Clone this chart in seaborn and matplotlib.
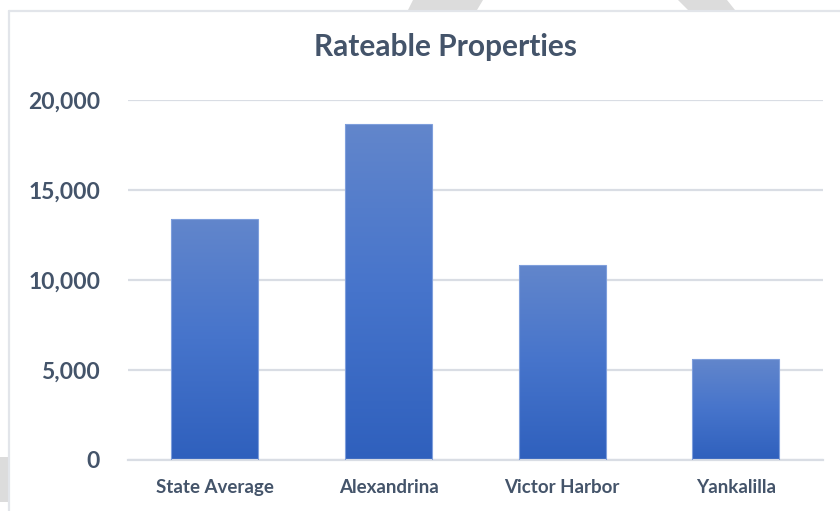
import matplotlib
matplotlib.use("Agg")
import matplotlib.pyplot as plt
import seaborn as sns
import numpy as np
import pandas as pd
from matplotlib.colors import LinearSegmentedColormap
from matplotlib.patches import Polygon, Rectangle
from matplotlib.ticker import FuncFormatter

categories = ["State Average", "Alexandrina", "Victor Harbor", "Yankalilla"]
values = [13400, 18650, 10830, 5610]
title = "Rateable Properties"
yticks = [0, 5000, 10000, 15000, 20000]

sns.set_theme(style="white")
plt.rcParams['font.family'] = ['Lato', 'DejaVu Sans']

W, H = 840, 511
fig = plt.figure(figsize=(W / 100, H / 100), dpi=100)
fig.patch.set_facecolor("white")

# frame and background decorations (figure coords)
def fx(x): return x / W
def fy(y): return 1 - y / H
fig.patches.append(Polygon([(fx(413), fy(0)), (fx(483), fy(0)), (fx(477), fy(10)), (fx(408), fy(10))],
                           closed=True, transform=fig.transFigure, facecolor="#dcdcdc", edgecolor="none", zorder=0))
fig.patches.append(Polygon([(fx(678), fy(0)), (fx(727), fy(0)), (fx(735), fy(10)), (fx(688), fy(10))],
                           closed=True, transform=fig.transFigure, facecolor="#dcdcdc", edgecolor="none", zorder=0))
fig.patches.append(Rectangle((fx(0), fy(502)), fx(8), (502 - 457) / H, transform=fig.transFigure,
                             facecolor="#dcdcdc", edgecolor="none", zorder=0))
fig.lines.append(plt.Line2D([fx(8.5), fx(840)], [fy(11.5), fy(11.5)], transform=fig.transFigure,
                            color="#e2e5ea", lw=1.6, zorder=1))
fig.lines.append(plt.Line2D([fx(8.5), fx(8.5)], [fy(11.5), fy(511)], transform=fig.transFigure,
                            color="#e2e5ea", lw=1.6, zorder=1))

ax = fig.add_axes([128 / W, 1 - 460 / H, (822.75 - 128) / W, (460 - 100) / H])
df = pd.DataFrame({"cat": categories, "val": values})
sns.barplot(data=df, x="cat", y="val", ax=ax, width=0.5, color="#4472c4", saturation=1, zorder=3)

ax.set_ylim(0, 20000)
ax.set_yticks(yticks)
ax.yaxis.set_major_formatter(FuncFormatter(lambda v, p: f"{int(v):,}"))
ax.grid(axis="y", color="#d9dde4", lw=1.6, zorder=0)
ax.set_axisbelow(True)
for s in ["top", "right", "left"]:
    ax.spines[s].set_visible(False)
ax.spines["bottom"].set_color("#d9dde4")
ax.spines["bottom"].set_linewidth(1.6)
ax.set_xlabel("")
ax.set_ylabel("")
ax.tick_params(axis="y", length=0, pad=20, labelsize=16.5, labelcolor="#44546a")
ax.tick_params(axis="x", length=0, pad=14, labelsize=13.5, labelcolor="#44546a")
for lab in ax.get_yticklabels() + ax.get_xticklabels():
    lab.set_fontweight("bold")

# gradient fill for each bar
cmap = LinearSegmentedColormap.from_list("g", ["#2f60bd", "#4674cb", "#6286cc"])
grad = np.linspace(0, 1, 256).reshape(-1, 1)
for p in ax.patches:
    x0, y0 = p.get_x(), p.get_y()
    w, h = p.get_width(), p.get_height()
    p.set_facecolor("none")
    p.set_edgecolor("#7f9fdc")
    p.set_linewidth(0.8)
    im = ax.imshow(grad, cmap=cmap, aspect="auto", origin="lower",
                   extent=[x0, x0 + w, y0, y0 + h], zorder=2.5)
    im.set_clip_path(p)
ax.set_xlim(-0.5, len(categories) - 0.5)
ax.set_ylim(0, 20000)

fig.text(445 / W, 1 - 47 / H, title, ha="center", va="center", fontsize=21.5,
         fontweight="bold", color="#44546a")

fig.savefig("out.png", dpi=100)
